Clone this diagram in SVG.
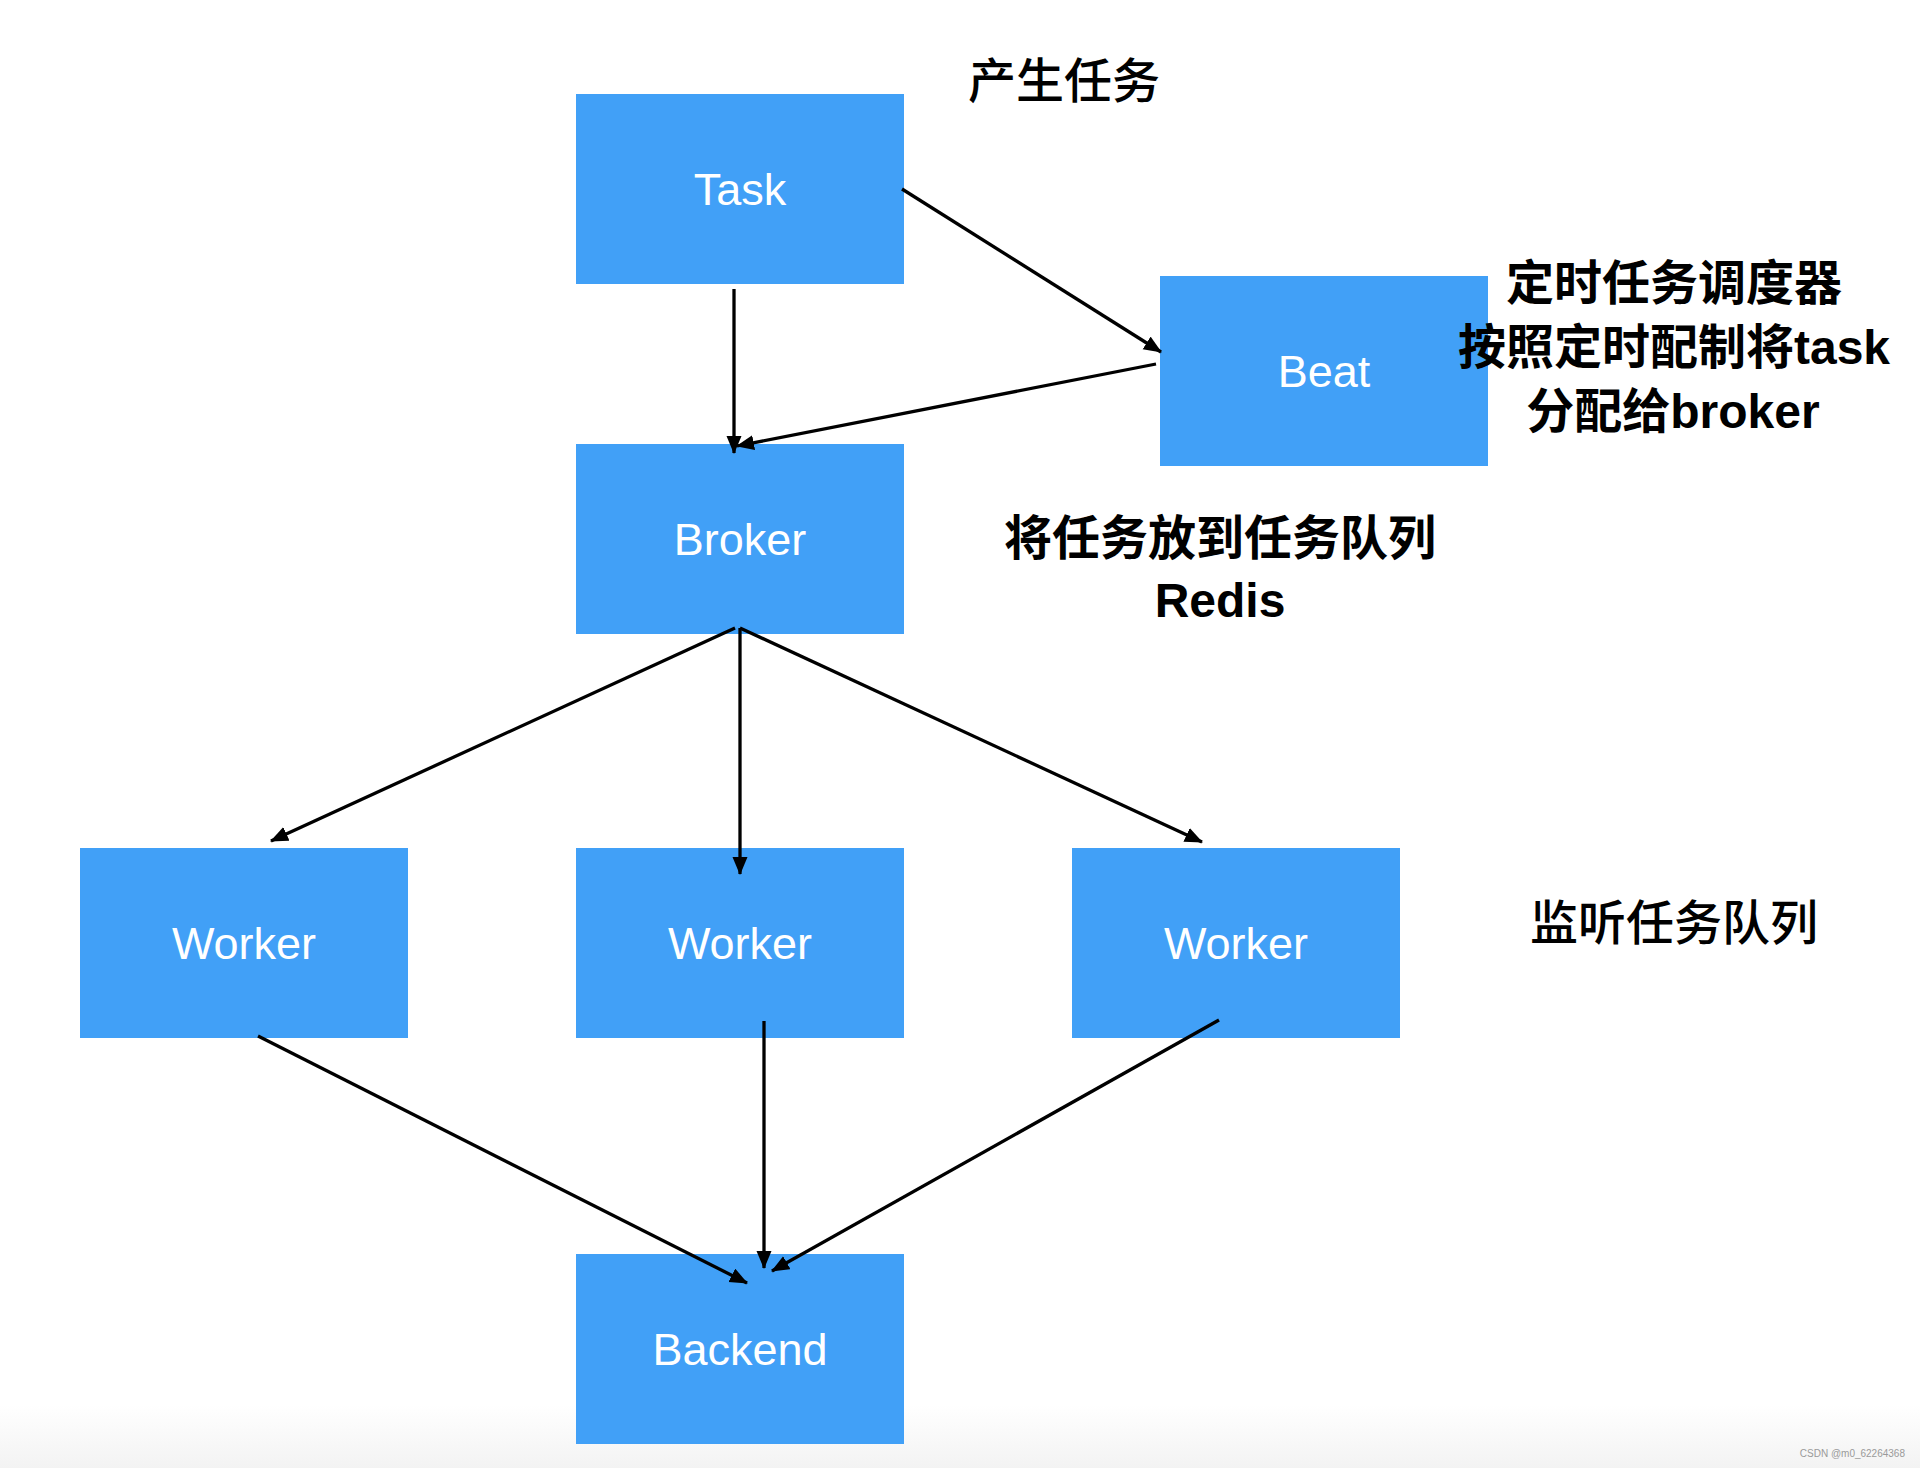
<svg xmlns="http://www.w3.org/2000/svg" width="1920" height="1468" viewBox="0 0 1920 1468">
  <defs>
    <linearGradient id="foot" x1="0" y1="0" x2="0" y2="1">
      <stop offset="0" stop-color="#ffffff"/>
      <stop offset="1" stop-color="#f3f3f3"/>
    </linearGradient>
    <marker id="arr" markerUnits="userSpaceOnUse" markerWidth="20" markerHeight="16" refX="17" refY="7.5" orient="auto">
      <path d="M0,0 L18,7.5 L0,15 Z" fill="#000"/>
    </marker>
    <style>
      .box { fill: #41a0f7; }
      .lbl { font-family: "Liberation Sans", "Noto Sans", sans-serif; font-size: 45px; fill: #ffffff; text-anchor: middle; }
      .note { font-family: "Liberation Sans", "Noto Sans CJK SC", sans-serif; font-size: 48px; fill: #000; text-anchor: middle; }
      .b { font-weight: 700; }
      .m { font-weight: 500; }
      .edge { stroke: #000; stroke-width: 3.3; fill: none; marker-end: url(#arr); }
      .wm { font-family: "Liberation Sans", sans-serif; font-size: 10px; fill: #9a9a9a; text-anchor: end; }
    </style>
  </defs>
  <rect x="0" y="0" width="1920" height="1468" fill="#ffffff"/>
  <rect x="0" y="1405" width="1920" height="63" fill="url(#foot)"/>

  <g id="task">
    <rect class="box" x="576" y="94" width="328" height="190"/>
    <text class="lbl" x="740" y="205">Task</text>
  </g>
  <g id="beat">
    <rect class="box" x="1160" y="276" width="328" height="190"/>
    <text class="lbl" x="1324" y="387">Beat</text>
  </g>
  <g id="broker">
    <rect class="box" x="576" y="444" width="328" height="190"/>
    <text class="lbl" x="740" y="555">Broker</text>
  </g>
  <g id="worker1">
    <rect class="box" x="80" y="848" width="328" height="190"/>
    <text class="lbl" x="244" y="959">Worker</text>
  </g>
  <g id="worker2">
    <rect class="box" x="576" y="848" width="328" height="190"/>
    <text class="lbl" x="740" y="959">Worker</text>
  </g>
  <g id="worker3">
    <rect class="box" x="1072" y="848" width="328" height="190"/>
    <text class="lbl" x="1236" y="959">Worker</text>
  </g>
  <g id="backend">
    <rect class="box" x="576" y="1254" width="328" height="190"/>
    <text class="lbl" x="740" y="1365">Backend</text>
  </g>

  <g id="connectors">
    <line class="edge" x1="902" y1="189" x2="1161" y2="352"/>
    <line class="edge" x1="734" y1="289" x2="734" y2="453"/>
    <line class="edge" x1="1156" y1="364" x2="737" y2="446"/>
    <line class="edge" x1="735" y1="628" x2="271" y2="841"/>
    <line class="edge" x1="740" y1="628" x2="740" y2="874"/>
    <line class="edge" x1="740" y1="628" x2="1202" y2="842"/>
    <line class="edge" x1="258" y1="1036" x2="747" y2="1283"/>
    <line class="edge" x1="764" y1="1021" x2="764" y2="1268"/>
    <line class="edge" x1="1219" y1="1020" x2="772" y2="1271"/>
  </g>

  <g id="notes">
    <text class="note m" x="1064" y="98">产生任务</text>
    <text class="note b" x="1674" y="300">定时任务调度器</text>
    <text class="note b" x="1674" y="364">按照定时配制将task</text>
    <text class="note b" x="1673" y="428">分配给broker</text>
    <text class="note b" x="1220" y="555">将任务放到任务队列</text>
    <text class="note b" x="1220" y="617">Redis</text>
    <text class="note m" x="1674" y="940">监听任务队列</text>
  </g>
  <text class="wm" x="1905" y="1457">CSDN @m0_62264368</text>
</svg>
